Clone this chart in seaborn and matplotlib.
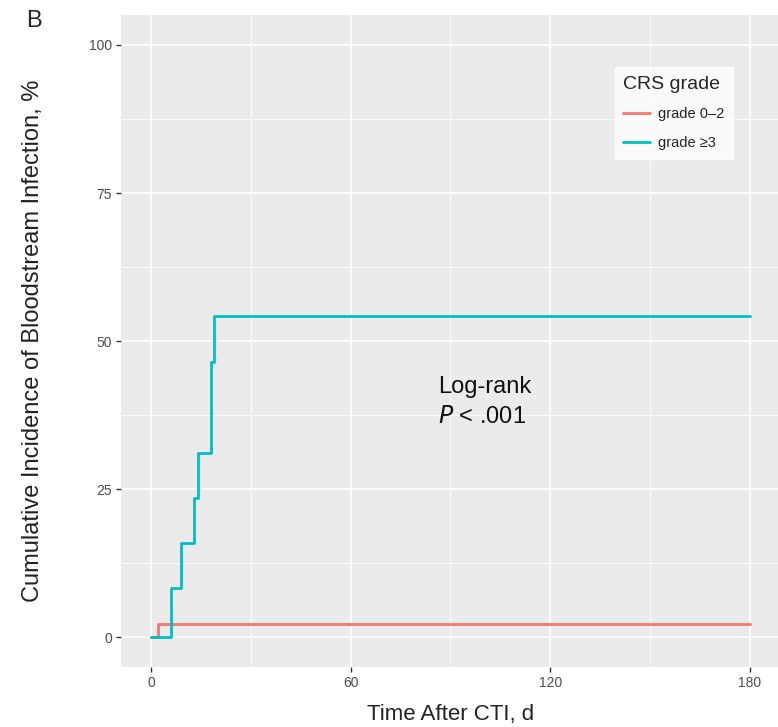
import seaborn as sns
import matplotlib.pyplot as plt
import pandas as pd

# step data (day, cumulative incidence %)
days_low = [0, 2, 180]
inc_low = [0, 2.2, 2.2]
days_high = [0, 6, 9, 13, 14, 18, 19, 180]
inc_high = [0, 8.3, 16.0, 23.6, 31.2, 46.5, 54.2, 54.2]
groups = ["grade 0\u20132", "grade \u22653"]
colors = ["#F8766D", "#00BFC4"]

df = pd.concat([
    pd.DataFrame({"day": days_low, "inc": inc_low, "grade": groups[0]}),
    pd.DataFrame({"day": days_high, "inc": inc_high, "grade": groups[1]}),
])

sns.set_theme(style="darkgrid")
plt.rcParams["font.family"] = ["Liberation Sans", "DejaVu Sans"]

fig = plt.figure(figsize=(7.78, 7.27), dpi=100)
ax = fig.add_axes([0.1555, 0.0825, 0.847, 0.8965])
ax.set_facecolor("#EBEBEB")

sns.lineplot(data=df, x="day", y="inc", hue="grade", palette=colors,
             drawstyle="steps-post", linewidth=2.0, ax=ax, estimator=None, sort=False)

ax.set_xlim(-9, 189)
ax.set_ylim(-5, 105)
ax.set_xticks([0, 60, 120, 180])
ax.set_yticks([0, 25, 50, 75, 100])
ax.set_xticks([30, 90, 150], minor=True)
ax.set_yticks([12.5, 37.5, 62.5, 87.5], minor=True)
ax.grid(which="major", color="white", linewidth=1.2)
ax.grid(which="minor", color="white", linewidth=0.6)
for s in ax.spines.values():
    s.set_visible(False)
ax.tick_params(which="major", bottom=True, left=True, length=3.5, width=1,
               color="#333333", labelsize=10, labelcolor="#4D4D4D", pad=3)
ax.tick_params(which="minor", length=0)

ax.set_xlabel("Time After CTI, d", fontsize=16, color="#222222", labelpad=10)
ax.set_ylabel("Cumulative Incidence of Bloodstream Infection, %", fontsize=17,
              color="#222222", labelpad=32)

ax.text(86.4, 42.3, "Log-rank", fontsize=17, va="center", color="#111111")
ax.text(86.4, 37.2, "$\\mathit{P}$ < .001", fontsize=17, va="center", color="#111111")

leg = ax.legend(title="CRS grade", loc="upper left", bbox_to_anchor=(0.738, 0.932),
                frameon=True, fontsize=10.5, title_fontsize=14, handlelength=1.8,
                borderpad=0.6, labelspacing=1.0, handletextpad=0.6, fancybox=False)
leg.get_frame().set_facecolor("white")
leg.get_frame().set_edgecolor("white")
leg._legend_box.align = "left"

fig.text(0.043, 0.971, "B", fontsize=17, va="center", ha="center")

fig.savefig("out.png", dpi=100)
